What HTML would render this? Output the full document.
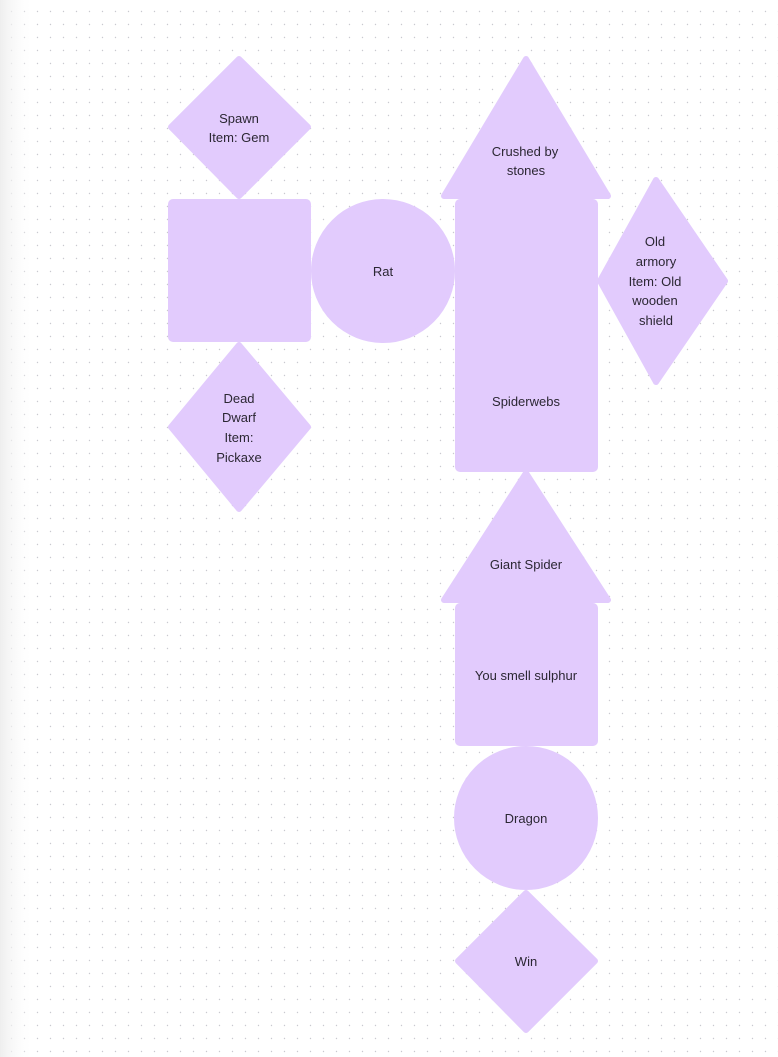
<!DOCTYPE html>
<html><head><meta charset="utf-8"><style>
html,body{margin:0;padding:0;width:778px;height:1057px;overflow:hidden;background:#fff}
svg{display:block}
text{font-family:"Liberation Sans",sans-serif;font-size:13px;fill:#2b2733;text-anchor:middle}
</style></head><body>
<svg width="778" height="1057" viewBox="0 0 778 1057">
<defs>
<pattern id="d" width="13" height="13" patternUnits="userSpaceOnUse" x="5" y="5">
<circle cx="6.5" cy="6.5" r="0.7" fill="#c9c9cf"/>
</pattern>
<linearGradient id="g" x1="0" x2="1"><stop offset="0" stop-color="#eeeeee"/><stop offset="1" stop-color="#ffffff" stop-opacity="0"/></linearGradient>
</defs>
<rect width="778" height="1057" fill="#fff"/>
<rect width="778" height="1057" fill="url(#d)"/>
<rect width="34" height="1057" fill="url(#g)"/>
<g fill="#e2cbfd" stroke="#e2cbfd" stroke-width="6" stroke-linejoin="round">
<polygon points="239,59 308,127 239,196 171,127"/>
<rect x="171" y="202" width="137" height="137" rx="2"/>
<circle cx="383" cy="271" r="69"/>
<polygon points="239,345 308,427 239,509 171,427"/>
<polygon points="526,59 608,196 444,196"/>
<rect x="458" y="202" width="137" height="267" rx="2"/>
<polygon points="656,180 725,281 656,382 600,281"/>
<polygon points="526,473 608,600 444,600"/>
<rect x="458" y="606" width="137" height="137" rx="2"/>
<circle cx="526" cy="818" r="69"/>
<polygon points="526,893 595,961 526,1030 458,961"/>
</g>
<text x="239" y="123">Spawn</text>
<text x="239" y="142">Item: Gem</text>
<text x="383" y="276">Rat</text>
<text x="239" y="403">Dead</text>
<text x="239" y="422">Dwarf</text>
<text x="239" y="442">Item:</text>
<text x="239" y="462">Pickaxe</text>
<text x="525" y="156">Crushed by</text>
<text x="526" y="175">stones</text>
<text x="655" y="246">Old</text>
<text x="656" y="266">armory</text>
<text x="655" y="286">Item: Old</text>
<text x="655" y="305">wooden</text>
<text x="656" y="325">shield</text>
<text x="526" y="406">Spiderwebs</text>
<text x="526" y="569">Giant Spider</text>
<text x="526" y="680">You smell sulphur</text>
<text x="526" y="823">Dragon</text>
<text x="526" y="966">Win</text>
</svg>
</body></html>
